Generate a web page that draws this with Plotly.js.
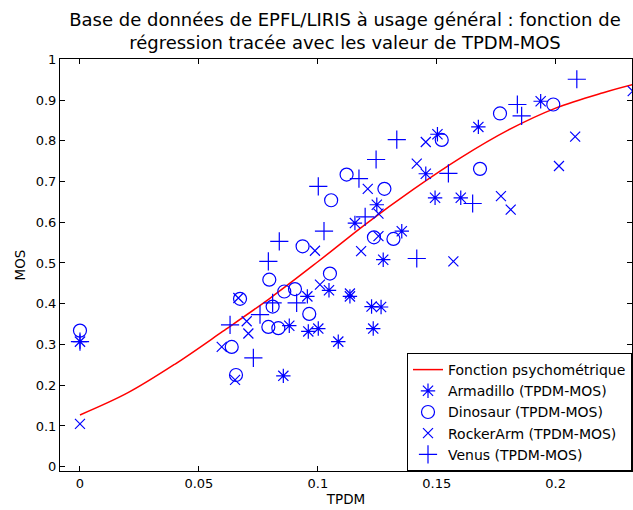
<!DOCTYPE html>
<html>
<head>
<meta charset="utf-8">
<script src="https://cdn.plot.ly/plotly-3.0.1.min.js"></script>
<style>html,body{margin:0;padding:0;background:#fff}#chart{width:633px;height:510px}</style>
</head>
<body>
<div id="chart"></div>
<script>
// Psychometric regression curve
var curveX = [0, 0.02, 0.04, 0.06, 0.08, 0.10, 0.12, 0.14, 0.16, 0.18, 0.20, 0.22, 0.2325];
var curveY = [0.127, 0.181, 0.252, 0.332, 0.414, 0.503, 0.595, 0.680, 0.758, 0.826, 0.880, 0.918, 0.938];

// Armadillo (TPDM-MOS)
var armX = [0, 0.1503, 0.1454, 0.1493, 0.1248, 0.1156, 0.1353, 0.1275, 0.1937, 0.1675, 0.1601, 0.1047, 0.0956, 0.1135, 0.0880, 0.0960, 0.1002, 0.1086, 0.1233, 0.1226, 0.1266, 0.0855];
var armY = [0.307, 0.816, 0.719, 0.660, 0.643, 0.598, 0.578, 0.508, 0.897, 0.834, 0.660, 0.433, 0.418, 0.418, 0.346, 0.332, 0.339, 0.307, 0.339, 0.393, 0.392, 0.223];

// Dinosaur (TPDM-MOS)
var dinoX = [0, 0.1521, 0.1121, 0.1280, 0.1056, 0.1236, 0.1318, 0.0936, 0.1990, 0.1766, 0.1682, 0.0673, 0.0638, 0.0656, 0.0796, 0.1051, 0.0859, 0.0904, 0.0810, 0.0964, 0.0792, 0.0834];
var dinoY = [0.334, 0.802, 0.717, 0.682, 0.654, 0.563, 0.559, 0.541, 0.889, 0.867, 0.731, 0.412, 0.294, 0.225, 0.459, 0.474, 0.430, 0.436, 0.393, 0.375, 0.343, 0.340];

// RockerArm (TPDM-MOS)
var rockX = [0, 0.1454, 0.1416, 0.1210, 0.1255, 0.1255, 0.0988, 0.1182, 0.2324, 0.2082, 0.2014, 0.1770, 0.1811, 0.1570, 0.0666, 0.0701, 0.0708, 0.0596, 0.0652, 0.1009, 0.1135];
var rockY = [0.105, 0.797, 0.744, 0.682, 0.621, 0.566, 0.530, 0.529, 0.922, 0.810, 0.738, 0.664, 0.631, 0.504, 0.414, 0.357, 0.327, 0.294, 0.213, 0.447, 0.425];

// Venus (TPDM-MOS)
var venX = [0, 0.1332, 0.1245, 0.1549, 0.1173, 0.1002, 0.1199, 0.1026, 0.0838, 0.0792, 0.1416, 0.2089, 0.1839, 0.1857, 0.1651, 0.0631, 0.0729, 0.0757, 0.0810, 0.0911];
var venY = [0.307, 0.803, 0.754, 0.720, 0.707, 0.688, 0.613, 0.578, 0.553, 0.504, 0.511, 0.951, 0.889, 0.861, 0.646, 0.348, 0.267, 0.373, 0.402, 0.402];

var xTicks = [0, 0.05, 0.1, 0.15, 0.2];
var xTickText = ["0", "0.05", "0.1", "0.15", "0.2"];
var yTicks = [0, 0.1, 0.2, 0.3, 0.4, 0.5, 0.6, 0.7, 0.8, 0.9, 1];
var yTickText = ["0", "0.1", "0.2", "0.3", "0.4", "0.5", "0.6", "0.7", "0.8", "0.9", "1"];

var blue = "rgb(0,0,255)";
function mk(sym, size) { return {symbol: sym, size: size, color: blue, line: {color: blue, width: 1.2}}; }

var traces = [
  {x: curveX, y: curveY, mode: "lines", name: "Fonction psychométrique", line: {color: "rgb(255,0,0)", width: 1.5, shape: "spline"}},
  {x: armX, y: armY, mode: "markers", name: "Armadillo (TPDM-MOS)", marker: mk("asterisk-open", 12)},
  {x: dinoX, y: dinoY, mode: "markers", name: "Dinosaur (TPDM-MOS)", marker: mk("circle-open", 13)},
  {x: rockX, y: rockY, mode: "markers", name: "RockerArm (TPDM-MOS)", marker: mk("x-thin-open", 10)},
  {x: venX, y: venY, mode: "markers", name: "Venus (TPDM-MOS)", marker: mk("cross-thin-open", 13)}
];

var font = "DejaVu Sans, sans-serif";
var layout = {
  width: 633, height: 510,
  margin: {l: 60, r: 1, t: 59, b: 39, pad: 0},
  paper_bgcolor: "#fff", plot_bgcolor: "#fff",
  font: {family: font, size: 13, color: "#000"},
  title: {text: "Base de données de EPFL/LIRIS à usage général : fonction de<br>régression tracée avec les valeur de TPDM-MOS",
          font: {family: font, size: 18, color: "#000"}, x: 0.545, xanchor: "center",
          xref: "container", y: 0.949, yanchor: "top", yref: "container"},
  xaxis: {range: [-0.0084, 0.2321], tickvals: xTicks, ticktext: xTickText, ticks: "inside", ticklen: 5, tickcolor: "#000",
          showline: true, linecolor: "#000", linewidth: 1, mirror: "ticks", showgrid: false, zeroline: false,
          tickfont: {family: font, size: 13, color: "#000"},
          title: {text: "TPDM", font: {family: font, size: 13.5, color: "#000"}, standoff: 0}},
  yaxis: {range: [-0.0106, 1.0007], tickvals: yTicks, ticktext: yTickText, ticks: "inside", ticklen: 5, tickcolor: "#000",
          showline: true, linecolor: "#000", linewidth: 1, mirror: "ticks", showgrid: false, zeroline: false,
          tickfont: {family: font, size: 13, color: "#000"},
          title: {text: "MOS", font: {family: font, size: 13.5, color: "#000"}, standoff: 6}},
  legend: {x: 1, xanchor: "right", y: 0, yanchor: "bottom", bgcolor: "#fff", bordercolor: "#000", borderwidth: 1,
           font: {family: font, size: 14, color: "#000"}, tracegroupgap: 0},
  showlegend: true
};

Plotly.newPlot("chart", traces, layout, {displayModeBar: false, staticPlot: true});
</script>
</body>
</html>
